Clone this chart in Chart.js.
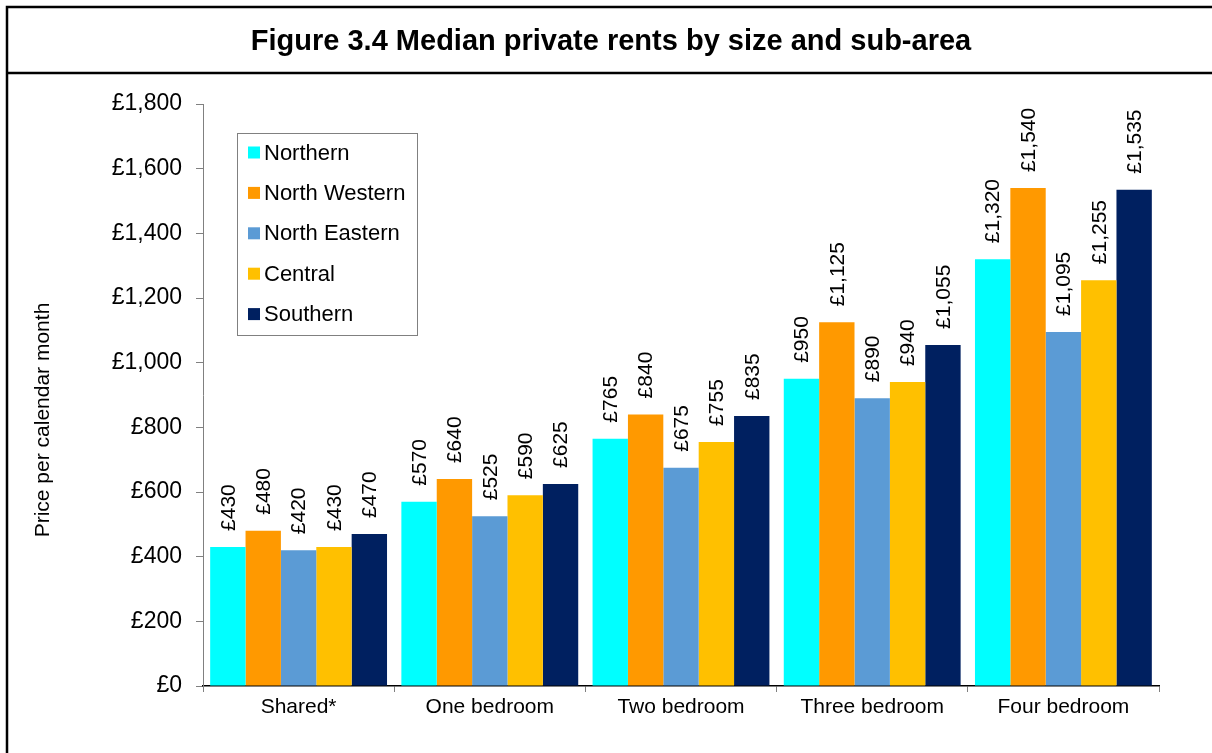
<!DOCTYPE html>
<html lang="en">

<head>
    <meta charset="UTF-8">
    <title>Figure 3.4 Median private rents by size and sub-area</title>
    <style>
        html, body {
            margin: 0;
            padding: 0;
            background: #fff;
        }

        #chart-container {
            width: 1212px;
            height: 753px;
        }
    </style>
</head>

<body>
    <div id="chart-container">
        <canvas id="chart" width="1212" height="753"></canvas>
    </div>

    <script src="https://cdn.jsdelivr.net/npm/chart.js"></script>
    <script>
        // Daten
        var categories = ['Shared*', 'One bedroom', 'Two bedroom', 'Three bedroom', 'Four bedroom'];
        var seriesNames = ['Northern', 'North Western', 'North Eastern', 'Central', 'Southern'];
        var northern = [430, 570, 765, 950, 1320];
        var northWestern = [480, 640, 840, 1125, 1540];
        var northEastern = [420, 525, 675, 890, 1095];
        var central = [430, 590, 755, 940, 1255];
        var southern = [470, 625, 835, 1055, 1535];
        var seriesColors = ['#00ffff', '#ff9900', '#5b9bd5', '#ffc000', '#002060'];
        var yTicks = [0, 200, 400, 600, 800, 1000, 1200, 1400, 1600, 1800];

        var FONT = 'Arial, "Liberation Sans", sans-serif';
        var allValues = [northern, northWestern, northEastern, central, southern];

        function pounds(v) {
            return '£' + Number(v).toLocaleString('en-GB');
        }

        // Rahmen, Titel, Achsentitel, Legende und Werte
        var decorations = {
            id: 'decorations',
            beforeDraw: function (chart) {
                var c = chart.ctx;
                c.save();
                c.fillStyle = '#fff';
                c.fillRect(0, 0, chart.width, chart.height);
                c.strokeStyle = '#000';
                c.lineWidth = 2.5;
                c.beginPath();
                c.moveTo(7, chart.height);
                c.lineTo(7, 7);
                c.lineTo(chart.width, 7);
                c.moveTo(7, 73);
                c.lineTo(chart.width, 73);
                c.stroke();

                c.fillStyle = '#000';
                c.font = 'bold 29px ' + FONT;
                c.textAlign = 'center';
                c.textBaseline = 'middle';
                c.fillText('Figure 3.4 Median private rents by size and sub-area', 611, 42);

                c.translate(43, 420);
                c.rotate(-Math.PI / 2);
                c.font = '21px ' + FONT;
                c.fillText('Price per calendar month', 0, 0);
                c.restore();
            },
            afterDatasetsDraw: function (chart) {
                var c = chart.ctx;
                c.save();
                c.fillStyle = '#000';
                c.font = '21px ' + FONT;
                c.textAlign = 'left';
                c.textBaseline = 'middle';
                chart.data.datasets.forEach(function (ds, i) {
                    chart.getDatasetMeta(i).data.forEach(function (bar, j) {
                        c.save();
                        c.translate(bar.x, bar.y - 16);
                        c.rotate(-Math.PI / 2);
                        c.fillText(pounds(ds.data[j]), 0, 1);
                        c.restore();
                    });
                });

                // Legende
                c.fillStyle = '#fff';
                c.fillRect(237, 133, 180, 202);
                c.strokeStyle = '#808080';
                c.lineWidth = 1;
                c.strokeRect(237.5, 133.5, 180, 202);
                c.font = '22px ' + FONT;
                chart.data.datasets.forEach(function (ds, i) {
                    var y = 152.5 + i * 40.4;
                    c.fillStyle = ds.backgroundColor;
                    c.fillRect(248, y - 6, 12, 12);
                    c.fillStyle = '#000';
                    c.fillText(ds.label, 264, y + 1);
                });
                c.restore();
            }
        };

        var ctx = document.getElementById('chart').getContext('2d');
        var chart = new Chart(ctx, {
            type: 'bar',
            data: {
                labels: categories,
                datasets: seriesNames.map(function (name, i) {
                    return {
                        label: name,
                        data: allValues[i],
                        backgroundColor: seriesColors[i],
                        borderWidth: 0,
                        categoryPercentage: 0.925,
                        barPercentage: 1
                    };
                })
            },
            options: {
                responsive: false,
                animation: false,
                layout: {
                    padding: { top: 104, right: 53, bottom: 0, left: 0 }
                },
                plugins: {
                    legend: { display: false },
                    title: { display: false },
                    tooltip: { enabled: false }
                },
                scales: {
                    x: {
                        afterFit: function (scale) { scale.height = 67; },
                        grid: {
                            drawOnChartArea: false,
                            drawTicks: true,
                            tickLength: 6,
                            color: '#808080',
                            offset: true
                        },
                        border: { color: '#000', width: 1.5 },
                        ticks: {
                            color: '#000',
                            padding: 3,
                            maxRotation: 0,
                            font: { family: FONT, size: 21 }
                        }
                    },
                    y: {
                        min: 0,
                        max: 1800,
                        afterFit: function (scale) { scale.width = 203; },
                        afterBuildTicks: function (scale) {
                            scale.ticks = yTicks.map(function (v) { return { value: v }; });
                        },
                        grid: {
                            drawOnChartArea: false,
                            drawTicks: true,
                            tickLength: 7,
                            color: '#808080'
                        },
                        border: { color: '#808080', width: 1 },
                        ticks: {
                            color: '#000',
                            padding: 14,
                            font: { family: FONT, size: 23 },
                            callback: function (v) { return pounds(v); }
                        }
                    }
                }
            },
            plugins: [decorations]
        });
    </script>
</body>

</html>
